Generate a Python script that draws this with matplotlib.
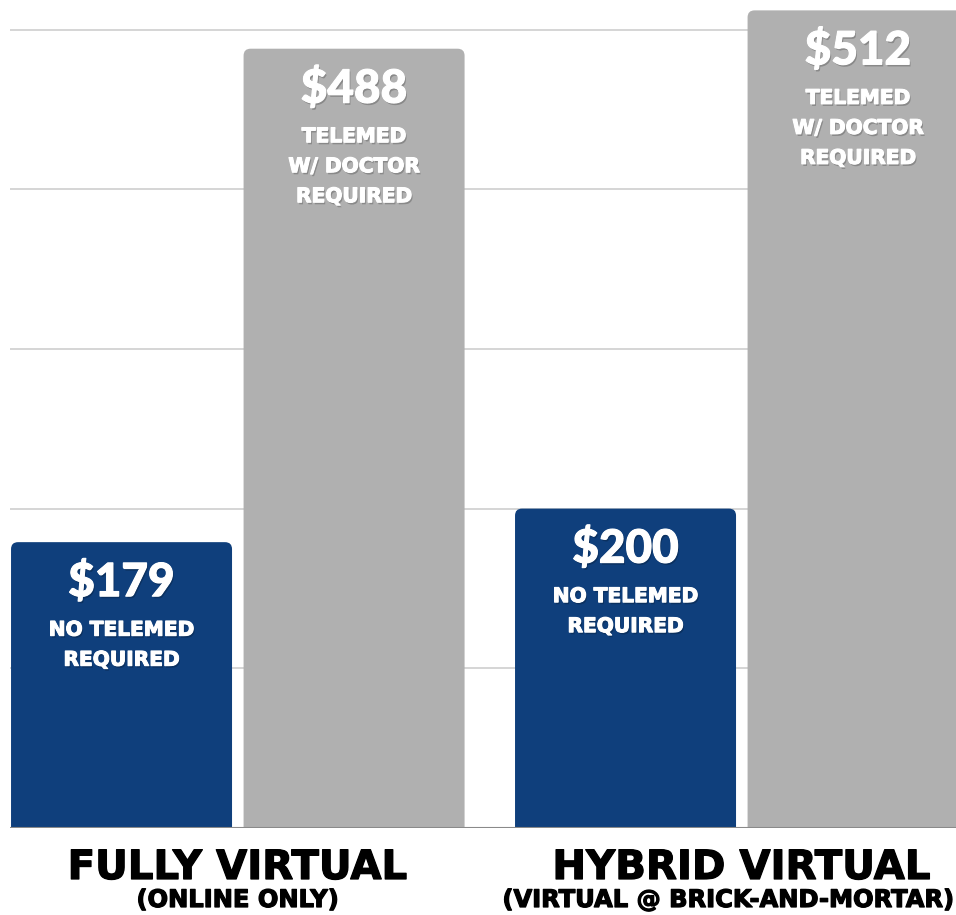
import matplotlib
matplotlib.use('Agg')
import matplotlib.pyplot as plt
import matplotlib.patheffects as pe
from matplotlib.patches import FancyBboxPatch
from matplotlib.transforms import blended_transform_factory

# --- data ---
groups = ['FULLY VIRTUAL', 'HYBRID VIRTUAL']
group_notes = ['(ONLINE ONLY)', '(VIRTUAL @ BRICK-AND-MORTAR)']
no_telemed = [179, 200]
with_doctor = [488, 512]
no_telemed_note = ['NO TELEMED', 'REQUIRED']
doctor_note = ['TELEMED', 'W/ DOCTOR', 'REQUIRED']
grid_ticks = [100, 200, 300, 400, 500]

BLUE = '#0f3f7c'
GRAY = '#b0b0b0'
FONT = 'DejaVu Sans'
NUM_FONT = 'Lato'

fig = plt.figure(figsize=(9.56, 9.15), dpi=100)
ax = fig.add_axes([10 / 956, 87 / 915, 946 / 956, 828 / 915])

x = list(range(len(groups)))
off = 0.2307
width = 0.4385
b1 = ax.bar([i - off for i in x], no_telemed, width, color=BLUE, zorder=3)
b2 = ax.bar([i + off for i in x], with_doctor, width, color=GRAY, zorder=3)

ax.set_xlim(-0.452, 1.425)
ax.set_ylim(0, 518.5)

# px per unit, used to round the bar tops
px_x = 946 / (1.425 + 0.452)
px_y = 828 / 518.5
for bars in (b1, b2):
    for r in bars:
        r.set_visible(False)
        p = FancyBboxPatch((r.get_x(), -20), r.get_width(), r.get_height() + 20,
                           boxstyle='round,pad=0,rounding_size=%f' % (7 / px_x),
                           mutation_aspect=px_x / px_y,
                           fc=r.get_facecolor(), ec='none', zorder=3)
        ax.add_patch(p)

# grid + baseline
for t in grid_ticks:
    ax.axhline(t, color='#d2d2d2', lw=1.3, zorder=1)
ax.axhline(0, color='#8a8a8a', lw=1.5, zorder=4)

for s in ax.spines.values():
    s.set_visible(False)
ax.set_xticks([])
ax.set_yticks([])

shadow = [pe.withSimplePatchShadow(offset=(1, -1.5), shadow_rgbFace='black', alpha=0.22),
          pe.Stroke(linewidth=0.8, foreground='white'), pe.Normal()]
heavy = [pe.Stroke(linewidth=0.9, foreground='black'), pe.Normal()]


def label_bar(xc, h, notes):
    ax.annotate('$%d' % h, xy=(xc, h), xytext=(0, -40 * 0.72), textcoords='offset points',
                ha='center', va='center', color='white', fontsize=33, fontweight='black',
                family=NUM_FONT, path_effects=shadow, zorder=5)
    for k, line in enumerate(notes):
        ax.annotate(line, xy=(xc, h), xytext=(0, -(88 + 30 * k) * 0.72), textcoords='offset points',
                    ha='center', va='center', color='white', fontsize=14.5, fontweight='bold',
                    family=FONT, path_effects=shadow, zorder=5)


for i in x:
    label_bar(i - off, no_telemed[i], no_telemed_note)
    label_bar(i + off, with_doctor[i], doctor_note)

trans = blended_transform_factory(ax.transData, ax.transAxes)
for i in x:
    ax.annotate(groups[i], xy=(i, 0), xycoords=trans, xytext=(0, -40 * 0.72), textcoords='offset points',
                ha='center', va='center', fontsize=29, fontweight='bold', family=FONT, color='black',
                path_effects=heavy)
# second subtitle is too wide to centre, so it is pushed against the right edge
ax.annotate(group_notes[0], xy=(0, 0), xycoords=trans, xytext=(0, -72 * 0.72), textcoords='offset points',
            ha='center', va='center', fontsize=17.4, fontweight='bold', family=FONT, color='black',
            path_effects=heavy, annotation_clip=False)
ax.annotate(group_notes[1], xy=(1, 0), xycoords=trans, xytext=(212 * 0.72, -72 * 0.72),
            textcoords='offset points', ha='right', va='center', fontsize=17.4, fontweight='bold',
            family=FONT, color='black', path_effects=heavy, annotation_clip=False)

fig.savefig('out.png', dpi=100)
